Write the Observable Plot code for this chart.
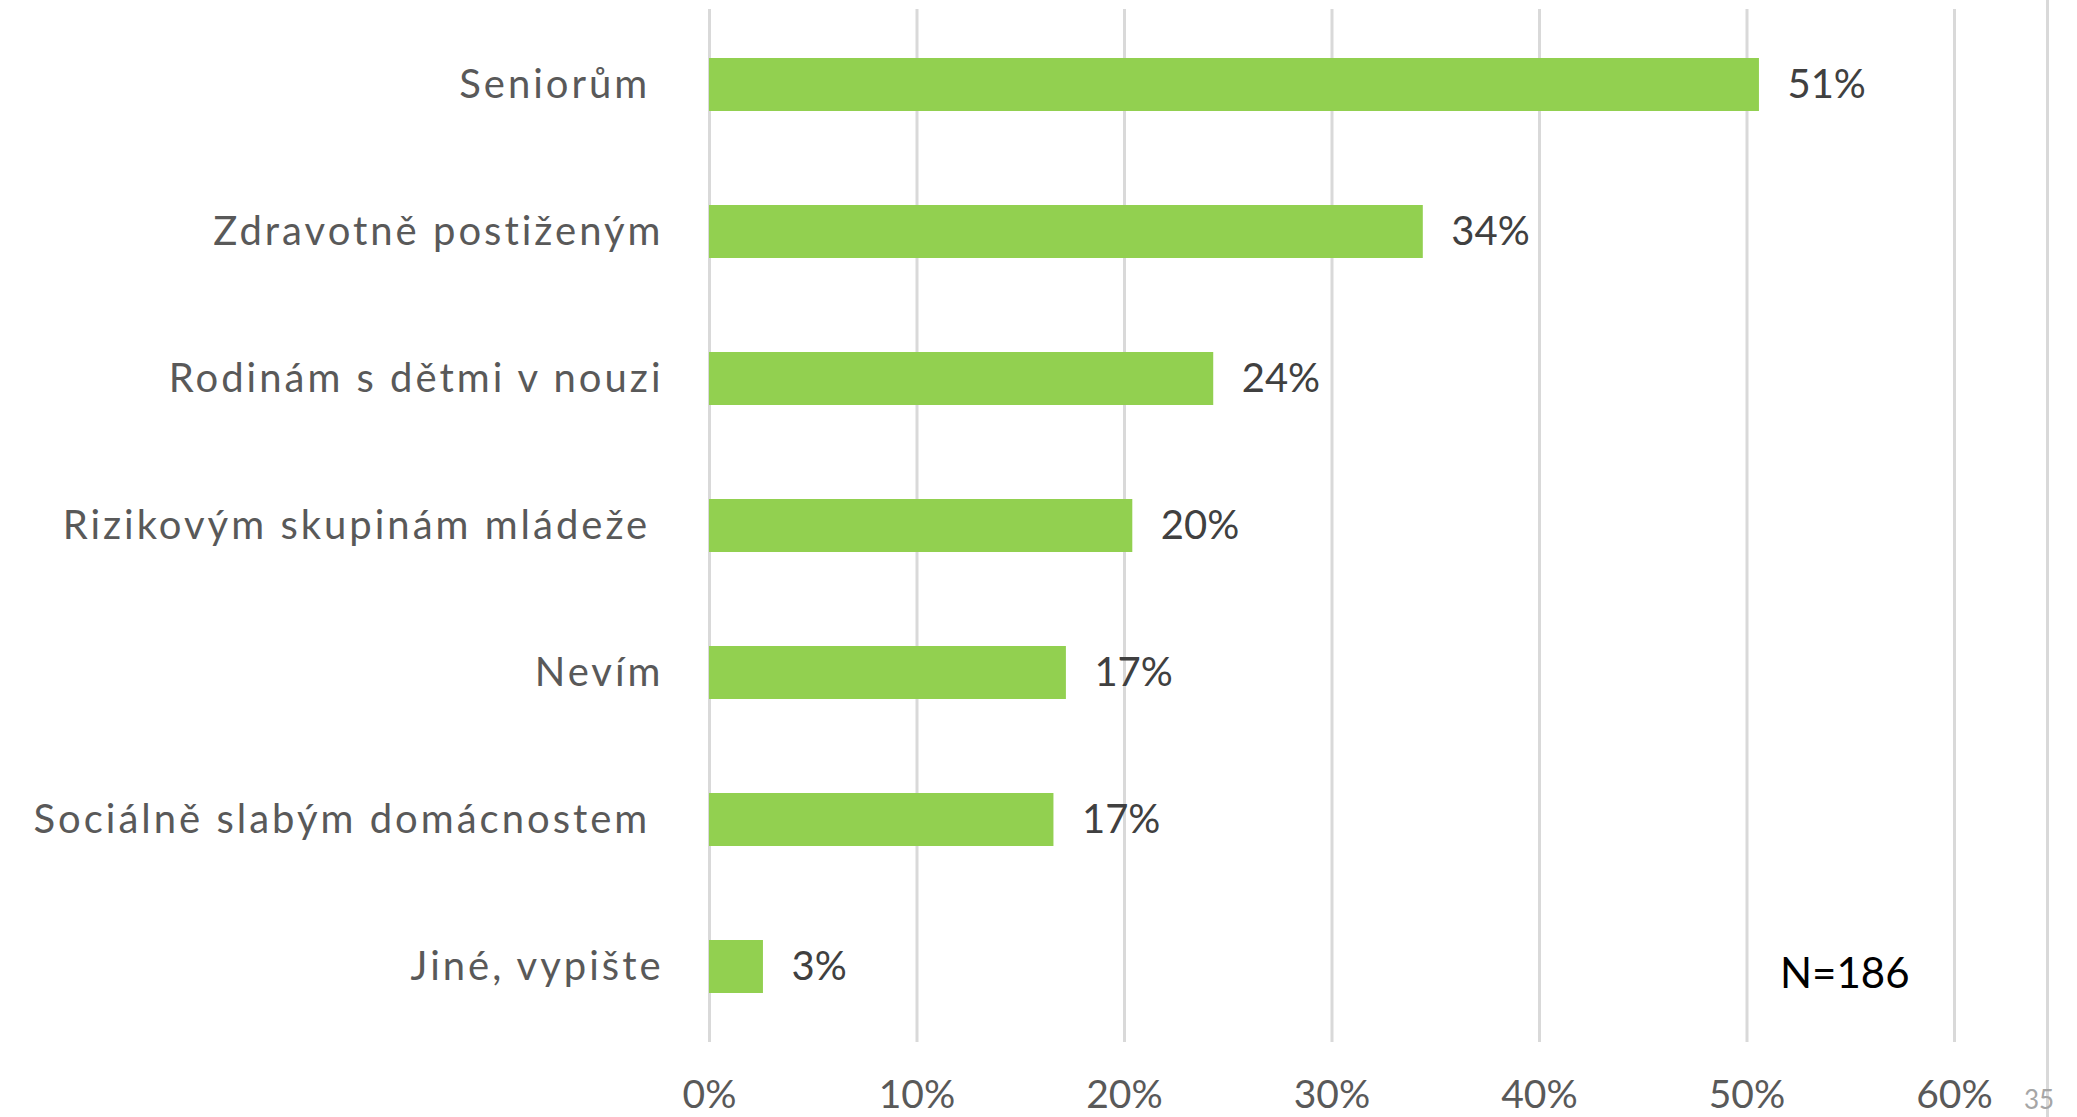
<!DOCTYPE html>
<html>
<head>
<meta charset="utf-8">
<script src="https://cdn.jsdelivr.net/npm/d3@7"></script>
<script src="https://cdn.jsdelivr.net/npm/@observablehq/plot@0.6"></script>
<style>
  html, body { margin: 0; padding: 0; background: #fff; }
  #wrap { position: relative; width: 2077px; height: 1117px; overflow: hidden; }
  #edge { position: absolute; left: 2046px; top: 0; width: 3px; height: 1117px; background: #d9d9d9; }
  #page { position: absolute; left: 2024px; top: 1084px; font-family: "Lato", sans-serif; font-size: 26px; line-height: 30px; color: #a6a6a6; }
  g[aria-label="y-axis tick label"] text { letter-spacing: 3px; white-space: pre; }
</style>
</head>
<body>
<div id="wrap">
  <div id="chart"></div>
  <div id="edge"></div>
  <div id="page">35</div>
</div>
<script>
const categories = ["Seniorům ", "Zdravotně postiženým", "Rodinám s dětmi v nouzi", "Rizikovým skupinám mládeže ", "Nevím", "Sociálně slabým domácnostem ", "Jiné, vypište"];
const values = [0.506, 0.344, 0.243, 0.204, 0.172, 0.166, 0.026];
const valueLabels = ["51%", "34%", "24%", "20%", "17%", "17%", "3%"];
const xTicks = [0, 0.1, 0.2, 0.3, 0.4, 0.5, 0.6];
const note = "N=186";

const data = categories.map((c, i) => ({category: c, value: values[i], label: valueLabels[i]}));

const chart = Plot.plot({
  width: 2077,
  height: 1117,
  marginLeft: 709,
  marginRight: 123,
  marginTop: 9,
  marginBottom: 75,
  style: {fontFamily: "Lato, sans-serif", fontSize: "40px", background: "#fff"},
  x: {domain: [0, 0.6], ticks: xTicks},
  y: {domain: categories, paddingInner: 0.642, paddingOuter: 0.325},
  marks: [
    Plot.gridX(xTicks, {stroke: "#d9d9d9", strokeOpacity: 1, strokeWidth: 3}),
    Plot.barX(data, {x: "value", y: "category", fill: "#92d050"}),
    Plot.text(data, {x: "value", y: "category", text: "label", dx: 28, textAnchor: "start", fill: "#404040", fontSize: 40}),
    Plot.axisX(xTicks, {tickSize: 0, tickPadding: 38, tickFormat: d3.format(".0%"), color: "#595959", fontSize: 39, label: null}),
    Plot.axisY({tickSize: 0, tickPadding: 46, color: "#595959", fontSize: 40, label: null}),
    Plot.text([note], {y: [categories[categories.length - 1]], text: d => d, frameAnchor: "right", textAnchor: "end", dx: -45, dy: 8, fill: "#000", fontSize: 42})
  ]
});
document.getElementById("chart").appendChild(chart);
</script>
</body>
</html>
